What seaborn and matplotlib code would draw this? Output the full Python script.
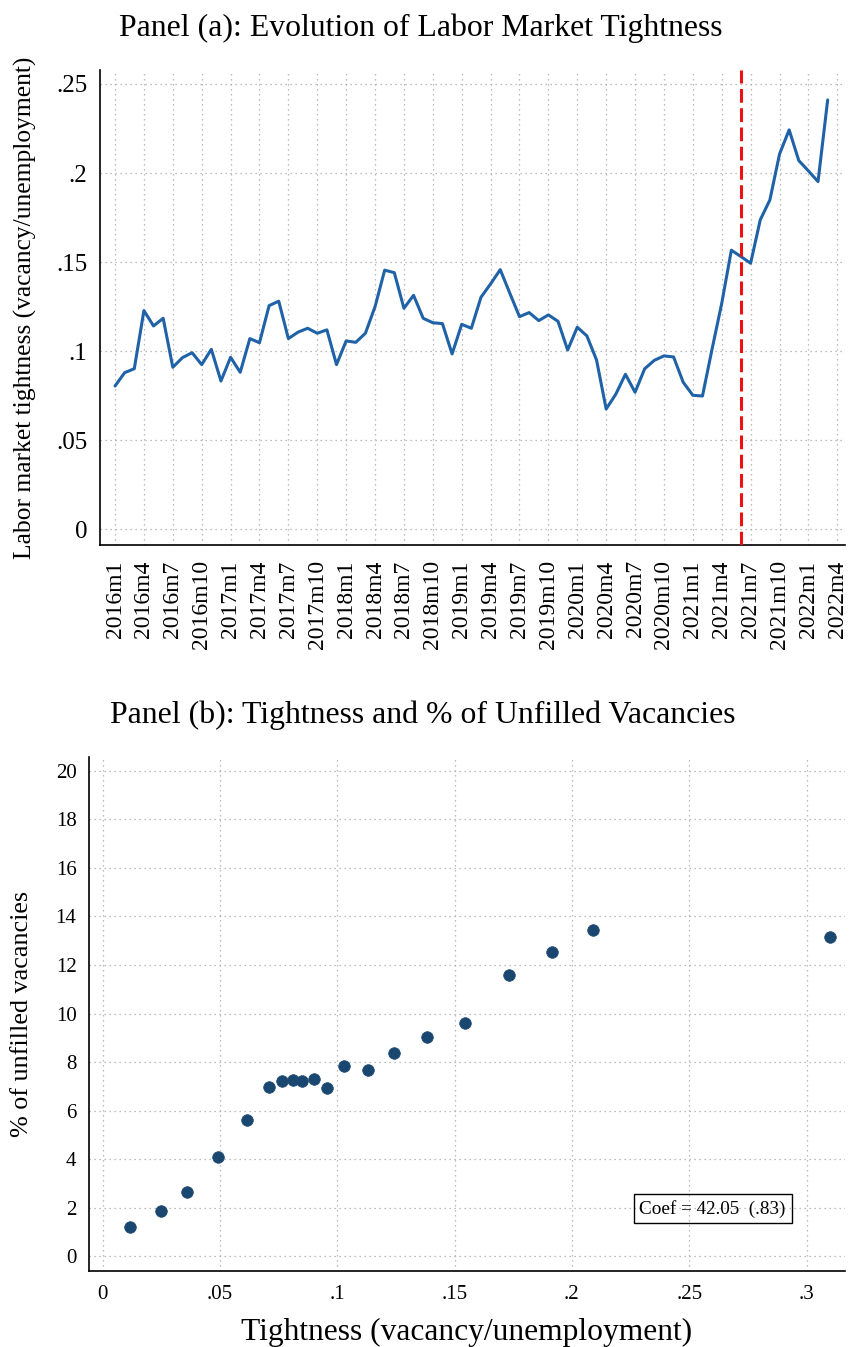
import numpy as np
import pandas as pd
import matplotlib
matplotlib.use("Agg")
import matplotlib.pyplot as plt
import matplotlib.ticker as ticker
import seaborn as sns

# Panel (a): monthly tightness, 2016m1 .. 2022m3
tightness = [0.0805, 0.0880, 0.0902, 0.1228, 0.1142, 0.1185, 0.0910, 0.0964, 0.0992, 0.0925, 0.1011, 0.0833,
             0.0966, 0.0882, 0.1071, 0.1048, 0.1256, 0.1281, 0.1071, 0.1107, 0.1129, 0.1101, 0.1120, 0.0925,
             0.1058, 0.1050, 0.1101, 0.1250, 0.1455, 0.1441, 0.1241, 0.1314, 0.1185, 0.1160, 0.1155, 0.0985,
             0.1151, 0.1129, 0.1303, 0.1378, 0.1458, 0.1325, 0.1194, 0.1217, 0.1172, 0.1204, 0.1168, 0.1007,
             0.1135, 0.1086, 0.0951, 0.0676, 0.0759, 0.0871, 0.0770, 0.0902, 0.0949, 0.0974, 0.0968, 0.0826,
             0.0753, 0.0749, 0.1013, 0.1269, 0.1567, 0.1531, 0.1494, 0.1737, 0.1849, 0.2106, 0.2242, 0.2070,
             0.2012, 0.1952, 0.2410]
months = pd.period_range("2016-01", periods=len(tightness), freq="M")
cutoff_month = "2021-06"
month_ticks = pd.period_range("2016-01", "2022-04", freq="3M")
yticks_a = [0, 0.05, 0.1, 0.15, 0.2, 0.25]

# Panel (b): binned scatter
bin_tightness = [0.0118, 0.0250, 0.0359, 0.0493, 0.0615, 0.0708, 0.0764, 0.0810, 0.0851, 0.0902,
                 0.0957, 0.1030, 0.1130, 0.1240, 0.1382, 0.1543, 0.1731, 0.1914, 0.2091, 0.3099]
unfilled_pct = [1.19, 1.88, 2.65, 4.08, 5.62, 6.99, 7.24, 7.25, 7.21, 7.31,
                6.92, 7.83, 7.69, 8.39, 9.04, 9.60, 11.59, 12.54, 13.44, 13.14]
xticks_b = [0, 0.05, 0.1, 0.15, 0.2, 0.25, 0.3]
yticks_b = list(range(0, 21, 2))
coef_text = "Coef = 42.05  (.83)"

sns.set_style("white")
plt.rcParams['font.family'] = ['Liberation Serif', 'DejaVu Serif']
plt.rcParams.update({"text.color": "black", "axes.labelcolor": "black",
                     "xtick.color": "black", "ytick.color": "black"})

def stata_fmt(v, _):
    s = f"{v:g}"
    return s.replace("0.", ".") if v != 0 else "0"

grid_kw = dict(color="#a8a8a8", linewidth=0.9, linestyle=(0, (1, 3)))

fig = plt.figure(figsize=(8.49, 13.47), dpi=100)

# ---- Panel (a)
ax1 = fig.add_axes([100/849, 1-545/1347, 745/849, 475/1347])
df_a = pd.DataFrame({"m": [p.ordinal - months[0].ordinal for p in months], "v": tightness})
sns.lineplot(data=df_a, x="m", y="v", color="#1f62a7", linewidth=2.2, ax=ax1)
cut = pd.Period(cutoff_month, freq="M").ordinal - months[0].ordinal
ax1.axvline(cut, color="#ee1111", linewidth=2.2, linestyle=(0, (4.5, 1.8)), zorder=3)
tick_pos = [p.ordinal - months[0].ordinal for p in month_ticks]
ax1.set_xticks(tick_pos)
ax1.set_xticklabels([f"{p.year}m{p.month}" for p in month_ticks], rotation=90, fontsize=17)
ax1.set_xlim(-1.56, 75.8)
ax1.set_yticks(yticks_a)
ax1.yaxis.set_major_formatter(ticker.FuncFormatter(stata_fmt))
ax1.set_ylim(-0.0087, 0.2578)
ax1.tick_params(axis="y", labelsize=18, length=0, pad=9)
ax1.tick_params(axis="x", length=0, pad=11)
ax1.grid(True, **grid_kw)
ax1.set_xlabel("")
ax1.set_ylabel("Labor market tightness (vacancy/unemployment)", fontsize=18.4, labelpad=14)
for s in ["top", "right"]:
    ax1.spines[s].set_visible(False)
for s in ["left", "bottom"]:
    ax1.spines[s].set_color("black")
    ax1.spines[s].set_linewidth(1.2)
fig.text(421/849, 1-28/1347, "Panel (a): Evolution of Labor Market Tightness",
         ha="center", va="center", fontsize=22.9)

# ---- Panel (b)
ax2 = fig.add_axes([89/849, 1-1271/1347, 756/849, 514/1347])
df_b = pd.DataFrame({"x": bin_tightness, "y": unfilled_pct})
sns.scatterplot(data=df_b, x="x", y="y", color="#1a476f", s=70, edgecolor="#1a476f",
                linewidth=0.5, ax=ax2, zorder=3)
ax2.set_xticks(xticks_b)
ax2.set_yticks(yticks_b)
ax2.xaxis.set_major_formatter(ticker.FuncFormatter(stata_fmt))
ax2.set_xlim(-0.0058, 0.3164)
ax2.set_ylim(-0.606, 20.57)
ax2.tick_params(axis="both", labelsize=15, length=0)
ax2.tick_params(axis="y", pad=9)
ax2.tick_params(axis="x", pad=10)
ax2.grid(True, **grid_kw)
ax2.set_xlabel("Tightness (vacancy/unemployment)", fontsize=22.7, labelpad=10)
ax2.set_ylabel("% of unfilled vacancies", fontsize=18.8, labelpad=16)
for s in ["top", "right"]:
    ax2.spines[s].set_visible(False)
for s in ["left", "bottom"]:
    ax2.spines[s].set_color("black")
    ax2.spines[s].set_linewidth(1.2)
ax2.text(0.26, 1.96, coef_text, ha="center", va="center", fontsize=13.8,
         bbox=dict(boxstyle="square,pad=0.3", facecolor="none", edgecolor="black", linewidth=1.0))
fig.text(423/849, 1-715/1347, "Panel (b): Tightness and % of Unfilled Vacancies",
         ha="center", va="center", fontsize=22.9)

fig.savefig("out.png", dpi=100, facecolor="white")
